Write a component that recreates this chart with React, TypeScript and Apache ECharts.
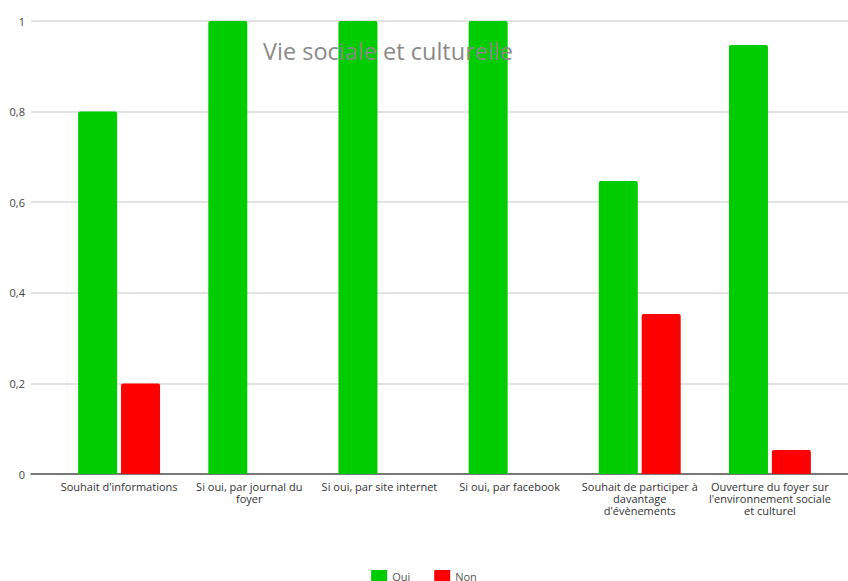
import React, { useEffect, useRef } from "react";
import * as echarts from "echarts";

const categories = [
  "Souhait d'informations",
  "Si oui, par journal du\nfoyer",
  "Si oui, par site internet",
  "Si oui, par facebook",
  "Souhait de participer à\ndavantage\nd'évènements",
  "Ouverture du foyer sur\nl'environnement sociale\net culturel",
];
const ouiValues = [0.8, 1, 1, 1, 0.647, 0.947];
const nonValues = [0.2, 0, 0, 0, 0.353, 0.053];
const yTicks = { min: 0, max: 1, interval: 0.2 };

export default function App() {
  const ref = useRef<HTMLDivElement>(null);
  useEffect(() => {
    document.body.style.margin = "0";
    const chart = echarts.init(ref.current!, null, { renderer: "svg" });
    const font = "'Open Sans', 'Noto Sans', sans-serif";
    chart.setOption({
      animation: false,
      textStyle: { fontFamily: font },
      title: {
        text: "Vie sociale et culturelle",
        left: 258,
        top: 34,
        textStyle: { fontSize: 23.5, fontWeight: "normal", color: "#8a8a8a", fontFamily: font },
      },
      legend: {
        top: 565,
        left: "center",
        itemWidth: 16,
        itemHeight: 12,
        itemGap: 24,
        icon: "rect",
        textStyle: { fontSize: 11, color: "#555", fontFamily: font },
        data: ["Oui", "Non"],
      },
      grid: [
        { left: 54, right: 13, top: 21, bottom: 107 },
        { left: 31, right: 0, top: 21, bottom: 107 },
      ],
      xAxis: [
        {
          type: "category",
          gridIndex: 0,
          data: categories,
          axisLine: { show: false },
          axisTick: { show: false },
          axisLabel: {
            interval: 0,
            fontSize: 11,
            color: "#333",
            lineHeight: 12,
            margin: 6,
            fontFamily: font,
          },
        },
        {
          type: "value",
          gridIndex: 1,
          min: 0,
          max: 1,
          axisLine: { show: true, lineStyle: { color: "#555", width: 1.5 } },
          axisTick: { show: false },
          axisLabel: { show: false },
          splitLine: { show: false },
        },
      ],
      yAxis: [
        {
          type: "value",
          gridIndex: 0,
          min: yTicks.min,
          max: yTicks.max,
          interval: yTicks.interval,
          axisLine: { show: false },
          axisTick: { show: false },
          axisLabel: { show: false },
          splitLine: { show: false },
        },
        {
          type: "value",
          gridIndex: 1,
          min: yTicks.min,
          max: yTicks.max,
          interval: yTicks.interval,
          axisLine: { show: false },
          axisTick: { show: false },
          axisLabel: {
            fontSize: 11,
            color: "#444",
            margin: 6,
            fontFamily: font,
            formatter: (v: number) => String(v).replace(".", ","),
          },
          splitLine: { show: true, lineStyle: { color: "#d9d9d9", width: 1.5 } },
        },
      ],
      series: [
        {
          name: "Oui",
          type: "bar",
          xAxisIndex: 0,
          yAxisIndex: 0,
          data: ouiValues,
          barWidth: 39,
          barGap: "10%",
          itemStyle: { color: "#00cc00", borderRadius: [2, 2, 0, 0] },
        },
        {
          name: "Non",
          type: "bar",
          xAxisIndex: 0,
          yAxisIndex: 0,
          data: nonValues,
          barWidth: 39,
          barGap: "10%",
          itemStyle: { color: "#ff0000", borderRadius: [2, 2, 0, 0] },
        },
      ],
    });
    return () => chart.dispose();
  }, []);
  return (
    <div
      ref={ref}
      style={{ position: "absolute", left: 0, top: 0, width: 848, height: 581 }}
    />
  );
}
